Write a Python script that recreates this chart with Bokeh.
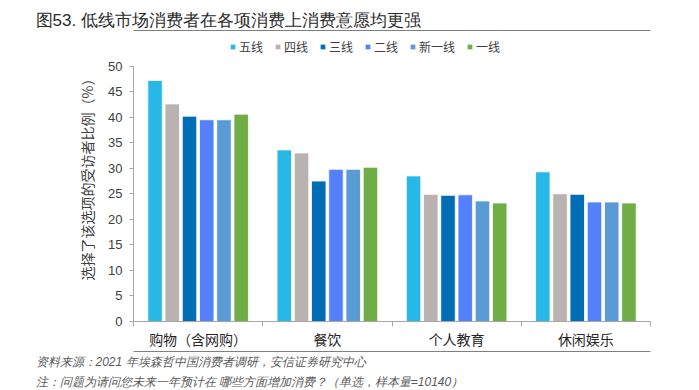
from bokeh.plotting import figure
from bokeh.models import (Range1d, LinearAxis, FixedTicker, Title,
                          Legend, LegendItem, ColumnDataSource)
from bokeh.transform import dodge
from bokeh.embed import file_html
from bokeh.resources import INLINE

categories = ["购物（含网购）", "餐饮", "个人教育", "休闲娱乐"]
series = ["五线", "四线", "三线", "二线", "新一线", "一线"]
colors = ["#27B8E7", "#BAB2B0", "#006DB4", "#5580FC", "#5B9BD5", "#70AD47"]
tier5 = [47.2, 33.6, 28.5, 29.3]
tier4 = [42.6, 33.0, 24.9, 25.0]
tier3 = [40.2, 27.5, 24.7, 24.9]
tier2 = [39.5, 29.8, 24.8, 23.4]
new_tier1 = [39.5, 29.8, 23.6, 23.4]
tier1 = [40.6, 30.2, 23.2, 23.2]
y_ticks = [0, 5, 10, 15, 20, 25, 30, 35, 40, 45, 50]

title_text = "图53. 低线市场消费者在各项消费上消费意愿均更强"
y_label = "选择了该选项的受访者比例（%）"
source_note = "资料来源：2021 年埃森哲中国消费者调研，安信证券研究中心"
note2 = "注：问题为请问您未来一年预计在 哪些方面增加消费？（单选，样本量=10140）"

values = [tier5, tier4, tier3, tier2, new_tier1, tier1]
n = len(categories)
centers = [i + 0.5 for i in range(n)]
src = ColumnDataSource(dict(xc=centers, **{s: v for s, v in zip(series, values)}))

CJK = "Noto Sans CJK SC"
LAT = "Liberation Sans"
# frame spans page y 30..324 so that 0..50 covers 324..66
p = figure(width=699, height=390, x_range=Range1d(0, n),
           y_range=Range1d(0, 50 + 36 / 5.16), x_axis_location=None,
           output_backend="svg", toolbar_location=None,
           min_border_left=133, min_border_right=49, min_border_top=30, min_border_bottom=66)
p.outline_line_color = None
p.grid.visible = False
p.background_fill_color = None

renderers = []
pitch = 0.1333
for i, (s, c) in enumerate(zip(series, colors)):
    r = p.vbar(x=dodge("xc", (i - 2.5) * pitch), top=s, width=0.112,
               source=src, fill_color=c, line_color="white", line_width=0.8)
    renderers.append(r)

ya = p.yaxis[0]
ya.ticker = FixedTicker(ticks=y_ticks)
ya.bounds = (0, 50)
ya.axis_line_color = "#A6A6A6"
ya.major_tick_line_color = "#A6A6A6"
ya.major_tick_out = 4
ya.major_tick_in = 0
ya.minor_tick_line_color = None
ya.major_label_standoff = 7
ya.major_label_text_font = LAT
ya.major_label_text_font_size = "13px"
ya.major_label_text_color = "#404040"
ya.axis_label = y_label
ya.axis_label_text_font = CJK
ya.axis_label_text_font_size = "14px"
ya.axis_label_text_font_style = "normal"
ya.axis_label_text_color = "#404040"
ya.axis_label_standoff = 8

# x axis: boundary ticks, then category names
xa_ticks = LinearAxis(ticker=FixedTicker(ticks=list(range(n + 1))),
                      major_label_text_font_size="0px", major_label_text_color=None,
                      major_label_standoff=0,
                      axis_line_color="#A6A6A6", major_tick_line_color="#A6A6A6",
                      major_tick_out=5, major_tick_in=0, minor_tick_line_color=None)
p.add_layout(xa_ticks, "below")
xa = LinearAxis(ticker=FixedTicker(ticks=centers),
                major_label_overrides={c: lab for c, lab in zip(centers, categories)},
                axis_line_color=None, major_tick_line_color=None, minor_tick_line_color=None,
                major_label_text_font=CJK, major_label_text_font_size="14px",
                major_label_text_color="#262626", major_label_standoff=-4)
p.add_layout(xa, "below")

# rule above the frame (under the title) and rule above the notes
for side in ("above", "below"):
    rule = LinearAxis(ticker=FixedTicker(ticks=[0, n]), major_label_text_font_size="0px",
                      major_label_text_color=None, major_label_standoff=0,
                      axis_line_color="#7F7F7F", major_tick_line_color=None,
                      major_tick_out=0, major_tick_in=0, minor_tick_line_color=None)
    p.add_layout(rule, side)

legend = Legend(items=[LegendItem(label=s, renderers=[r]) for s, r in zip(series, renderers)],
                orientation="horizontal", location=(96, 266), padding=0, margin=0,
                spacing=11, glyph_width=7, glyph_height=7, label_standoff=3,
                label_text_font=CJK, label_text_font_size="12px", label_text_color="#404040",
                border_line_color=None, background_fill_alpha=0, label_height=12)
p.add_layout(legend, "center")

# title
p.title.text = title_text
p.title.align = "left"
p.title.offset = -98
p.title.text_font = LAT
p.title.text_font_size = "17px"
p.title.text_font_style = "normal"
p.title.text_color = "#2B2B2B"
p.title.standoff = 2

# notes
for txt, so in ((source_note, 3), (note2, 4)):
    p.add_layout(Title(text=txt, align="left", offset=-98, text_font=LAT,
                       text_font_size="12px", text_font_style="italic",
                       text_color="#595959", standoff=so), "below")

open("out.html", "w").write(file_html(p, INLINE))
